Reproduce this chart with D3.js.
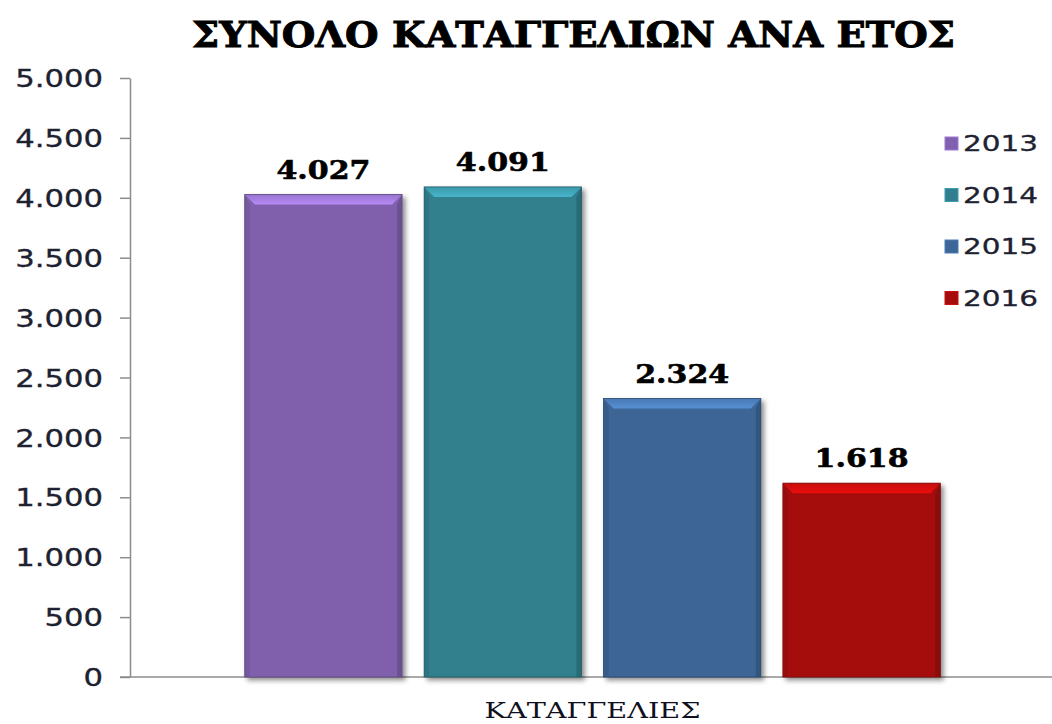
<!DOCTYPE html>
<html>
<head>
<meta charset="utf-8">
<script src="https://cdn.jsdelivr.net/npm/d3@7"></script>
<style>
  body { margin: 0; background: #fff; }
  svg { display: block; }
</style>
</head>
<body>
<svg id="canvas"></svg>
<script>
// ########## Data ##########
var categories = ["ΚΑΤΑΓΓΕΛΙΕΣ"];
var years = ["2013", "2014", "2015", "2016"];
var values = [4027, 4091, 2324, 1618];
var colors = ["#8061ad", "#317f8e", "#3d6596", "#a50c0c"];
var yTicks = [0, 500, 1000, 1500, 2000, 2500, 3000, 3500, 4000, 4500, 5000];
var title = "ΣΥΝΟΛΟ ΚΑΤΑΓΓΕΛΙΩΝ  ΑΝΑ ΕΤΟΣ";

(function () {
    var w = 1052, h = 724;
    var mLeft = 130, mRight = 1055, mTop = 78, mBottom = 677;

    var svg = d3.select("#canvas").attr("width", w).attr("height", h);
    var defs = svg.append("defs");

    var shadow = defs.append("filter").attr("id", "shadow")
        .attr("x", "-10%").attr("y", "-10%").attr("width", "130%").attr("height", "130%");
    shadow.append("feGaussianBlur").attr("in", "SourceAlpha").attr("stdDeviation", 2.5);
    shadow.append("feOffset").attr("dx", 3).attr("dy", 3).attr("result", "b");
    shadow.append("feComponentTransfer").append("feFuncA").attr("type", "linear").attr("slope", 0.45);
    var merge = shadow.append("feMerge");
    merge.append("feMergeNode");
    merge.append("feMergeNode").attr("in", "SourceGraphic");

    // ########## Scales ##########
    var x0 = d3.scaleBand().domain(categories).range([mLeft, mRight])
        .paddingInner(0).paddingOuter(0.165);
    var x1 = d3.scaleBand().domain(years).range([0, x0.bandwidth()])
        .paddingInner(0.123).paddingOuter(0);
    var y = d3.scaleLinear().domain([0, 5000]).range([mBottom, mTop]);

    // ########## Title ##########
    svg.append("text")
        .attr("x", 192).attr("y", 47)
        .attr("textLength", 763).attr("lengthAdjust", "spacingAndGlyphs")
        .style("font-family", "'DejaVu Serif', serif")
        .style("font-weight", "bold")
        .style("font-size", "36px")
        .attr("fill", "#000")
        .attr("stroke", "#000").attr("stroke-width", 1)
        .text(title);

    // ########## Axes ##########
    var yAxis = d3.axisLeft(y).tickValues(yTicks).tickSize(10).tickSizeOuter(0)
        .tickFormat(function (d) { return d3.format(",")(d).replace(/,/g, "."); });

    var gy = svg.append("g").attr("transform", "translate(" + mLeft + ",0)").call(yAxis);
    gy.select(".domain").attr("stroke", "#8c8c8c").attr("stroke-width", 1.5);
    gy.selectAll(".tick line").attr("stroke", "#8c8c8c").attr("stroke-width", 1.5);
    gy.selectAll(".tick text")
        .attr("x", -21).attr("dy", "0.36em")
        .attr("transform", "scale(1.28,1)")
        .style("font-family", "'DejaVu Sans', Verdana, sans-serif")
        .style("font-size", "24px")
        .attr("fill", "#1e2230")
        .attr("stroke", "#1e2230").attr("stroke-width", 0.3);

    svg.append("line")
        .attr("x1", mLeft - 10).attr("x2", w)
        .attr("y1", y(0)).attr("y2", y(0))
        .attr("stroke", "#8c8c8c").attr("stroke-width", 1.5);

    svg.append("text")
        .attr("x", x0(categories[0]) + x0.bandwidth() / 2 - 108).attr("y", 718)
        .attr("textLength", 216).attr("lengthAdjust", "spacingAndGlyphs")
        .style("font-family", "'DejaVu Serif', serif")
        .style("font-size", "22px")
        .attr("fill", "#101020")
        .text(categories[0]);

    // ########## Bars ##########
    var bars = years.map(function (yr, i) {
        return { year: yr, value: values[i], color: colors[i] };
    });

    var bar = svg.selectAll(".bar").data(bars).enter()
        .append("g").attr("class", "bar")
        .attr("filter", "url(#shadow)");

    var bev = 10, side = 5;
    bar.each(function (d, i) {
        var g = d3.select(this);
        var bx = x0(categories[0]) + x1(d.year);
        var bw = x1.bandwidth();
        var by = y(d.value);
        var bh = y(0) - by;
        var c = d3.color(d.color);

        var grad = defs.append("linearGradient").attr("id", "top" + i)
            .attr("x1", 0).attr("y1", 0).attr("x2", 0).attr("y2", 1);
        grad.append("stop").attr("offset", "0%").attr("stop-color", c.brighter(0.5));
        grad.append("stop").attr("offset", "100%").attr("stop-color", c.brighter(1.0));

        g.append("rect")
            .attr("x", bx).attr("y", by).attr("width", bw).attr("height", bh)
            .attr("fill", d.color);
        // top bevel
        g.append("path")
            .attr("d", "M" + bx + "," + by + "L" + (bx + bw) + "," + by +
                "L" + (bx + bw - bev) + "," + (by + bev) + "L" + (bx + bev) + "," + (by + bev) + "Z")
            .attr("fill", "url(#top" + i + ")");
        // left bevel
        g.append("path")
            .attr("d", "M" + bx + "," + by + "L" + (bx + side) + "," + (by + bev) +
                "L" + (bx + side) + "," + (by + bh) + "L" + bx + "," + (by + bh) + "Z")
            .attr("fill", c.darker(0.25));
        // right bevel
        g.append("path")
            .attr("d", "M" + (bx + bw) + "," + by + "L" + (bx + bw - side) + "," + (by + bev) +
                "L" + (bx + bw - side) + "," + (by + bh) + "L" + (bx + bw) + "," + (by + bh) + "Z")
            .attr("fill", c.darker(0.5));
        g.append("rect")
            .attr("x", bx).attr("y", by).attr("width", bw).attr("height", bh)
            .attr("fill", "none").attr("stroke", c.darker(0.8)).attr("stroke-width", 0.8);
    });

    // ########## Value labels ##########
    svg.selectAll(".label").data(bars).enter()
        .append("text").attr("class", "label")
        .attr("x", function (d) { return x0(categories[0]) + x1(d.year) + x1.bandwidth() / 2 - 47; })
        .attr("y", function (d) { return y(d.value) - 16; })
        .attr("textLength", 94).attr("lengthAdjust", "spacingAndGlyphs")
        .style("font-family", "'DejaVu Serif', serif")
        .style("font-weight", "bold")
        .style("font-size", "26px")
        .attr("fill", "#000")
        .attr("stroke", "#000").attr("stroke-width", 0.6)
        .text(function (d) { return d3.format(",")(d.value).replace(/,/g, "."); });

    // ########## Legend ##########
    var legend = svg.selectAll(".legend").data(bars).enter()
        .append("g").attr("class", "legend")
        .attr("transform", function (d, i) { return "translate(945," + (143 + i * 51.5) + ")"; });

    legend.append("rect")
        .attr("x", 0).attr("y", -6).attr("width", 13).attr("height", 13)
        .attr("fill", function (d) { return d.color; })
        .attr("stroke", function (d) { return d3.color(d.color).brighter(0.6); })
        .attr("stroke-width", 1);

    legend.append("text")
        .attr("x", 18).attr("y", 8)
        .attr("textLength", 75).attr("lengthAdjust", "spacingAndGlyphs")
        .style("font-family", "'DejaVu Sans', Verdana, sans-serif")
        .style("font-size", "21px")
        .attr("fill", "#1e2230")
        .attr("stroke", "#1e2230").attr("stroke-width", 0.3)
        .text(function (d) { return d.year; });
})();
</script>
</body>
</html>
